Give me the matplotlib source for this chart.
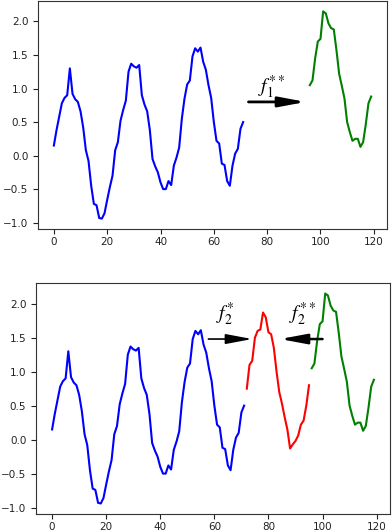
import matplotlib
matplotlib.use("Agg")
import matplotlib.pyplot as plt
import numpy as np

plt.rcParams['mathtext.fontset'] = 'stix'

# ---- data ----
blue_x = list(range(0, 72))
blue_y = [0.15, 0.38, 0.58, 0.78, 0.86, 0.90, 1.30, 0.92, 0.84, 0.80,
          0.66, 0.42, 0.08, -0.08, -0.45, -0.72, -0.74, -0.93, -0.94, -0.86,
          -0.66, -0.47, -0.30, 0.08, 0.20, 0.52, 0.68, 0.82, 1.25, 1.37,
          1.33, 1.31, 1.35, 0.90, 0.76, 0.66, 0.38, -0.05, -0.16, -0.25,
          -0.40, -0.50, -0.50, -0.38, -0.44, -0.15, -0.03, 0.12, 0.55, 0.85,
          1.06, 1.12, 1.48, 1.60, 1.55, 1.61, 1.40, 1.28, 1.05, 0.86,
          0.50, 0.22, 0.18, -0.12, -0.14, -0.38, -0.45, -0.15, 0.03, 0.10,
          0.40, 0.50]

red_x = list(range(72, 96))
red_y = [0.75, 1.10, 1.16, 1.50, 1.60, 1.62, 1.87, 1.80, 1.58, 1.55,
         1.35, 1.00, 0.70, 0.53, 0.33, 0.15, -0.13, -0.07, -0.02, 0.06,
         0.22, 0.28, 0.50, 0.80]

green_x = list(range(96, 120))
green_y = [1.05, 1.12, 1.45, 1.70, 1.74, 2.15, 2.12, 1.97, 1.90, 1.88,
           1.57, 1.22, 1.04, 0.85, 0.50, 0.35, 0.22, 0.25, 0.25, 0.13,
           0.20, 0.47, 0.78, 0.88]

x_ticks = [0, 20, 40, 60, 80, 100, 120]
y_ticks = [-1.0, -0.5, 0.0, 0.5, 1.0, 1.5, 2.0]

W, H = 392, 532
fig = plt.figure(figsize=(W / 100, H / 100), dpi=100)

def axes_px(l, t, r, b):
    return fig.add_axes([l / W, 1 - b / H, (r - l) / W, (b - t) / H])

ax1 = axes_px(38, 1, 387, 229)
ax2 = axes_px(36, 283, 390, 514)

for ax in (ax1, ax2):
    ax.plot(blue_x, blue_y, color='blue', lw=1.5)
    ax.plot(green_x, green_y, color='green', lw=1.5)
    ax.set_xticks(x_ticks)
    ax.set_yticks(y_ticks)
    ax.tick_params(labelsize=7.5, colors='#222222', length=3.5)
    ax.tick_params(axis='x', pad=2)
    for s in ax.spines.values():
        s.set_color('#333333')

ax2.plot(red_x, red_y, color='red', lw=1.5)

def harrow(ax, x0, x1, y, lw=1.5):
    ax.annotate('', xy=(x1, y), xytext=(x0, y),
                arrowprops=dict(arrowstyle='-|>,head_length=1.6,head_width=0.3',
                                color='black', lw=lw, shrinkA=0, shrinkB=0))

# top annotations
harrow(ax1, 73, 94.5, 0.80, lw=2)
ax1.text(81.5, 1.02, r'$f_1^{**}$', fontsize=14, ha='center', va='center')

# bottom annotations
harrow(ax2, 57.8, 74, 1.48, lw=1.2)
harrow(ax2, 100, 84.3, 1.48, lw=1.8)
ax2.text(64, 1.85, r'$f_2^{*}$', fontsize=14, ha='center', va='center')
ax2.text(92.5, 1.85, r'$f_2^{**}$', fontsize=14, ha='center', va='center')

fig.savefig('out.png', dpi=100)
